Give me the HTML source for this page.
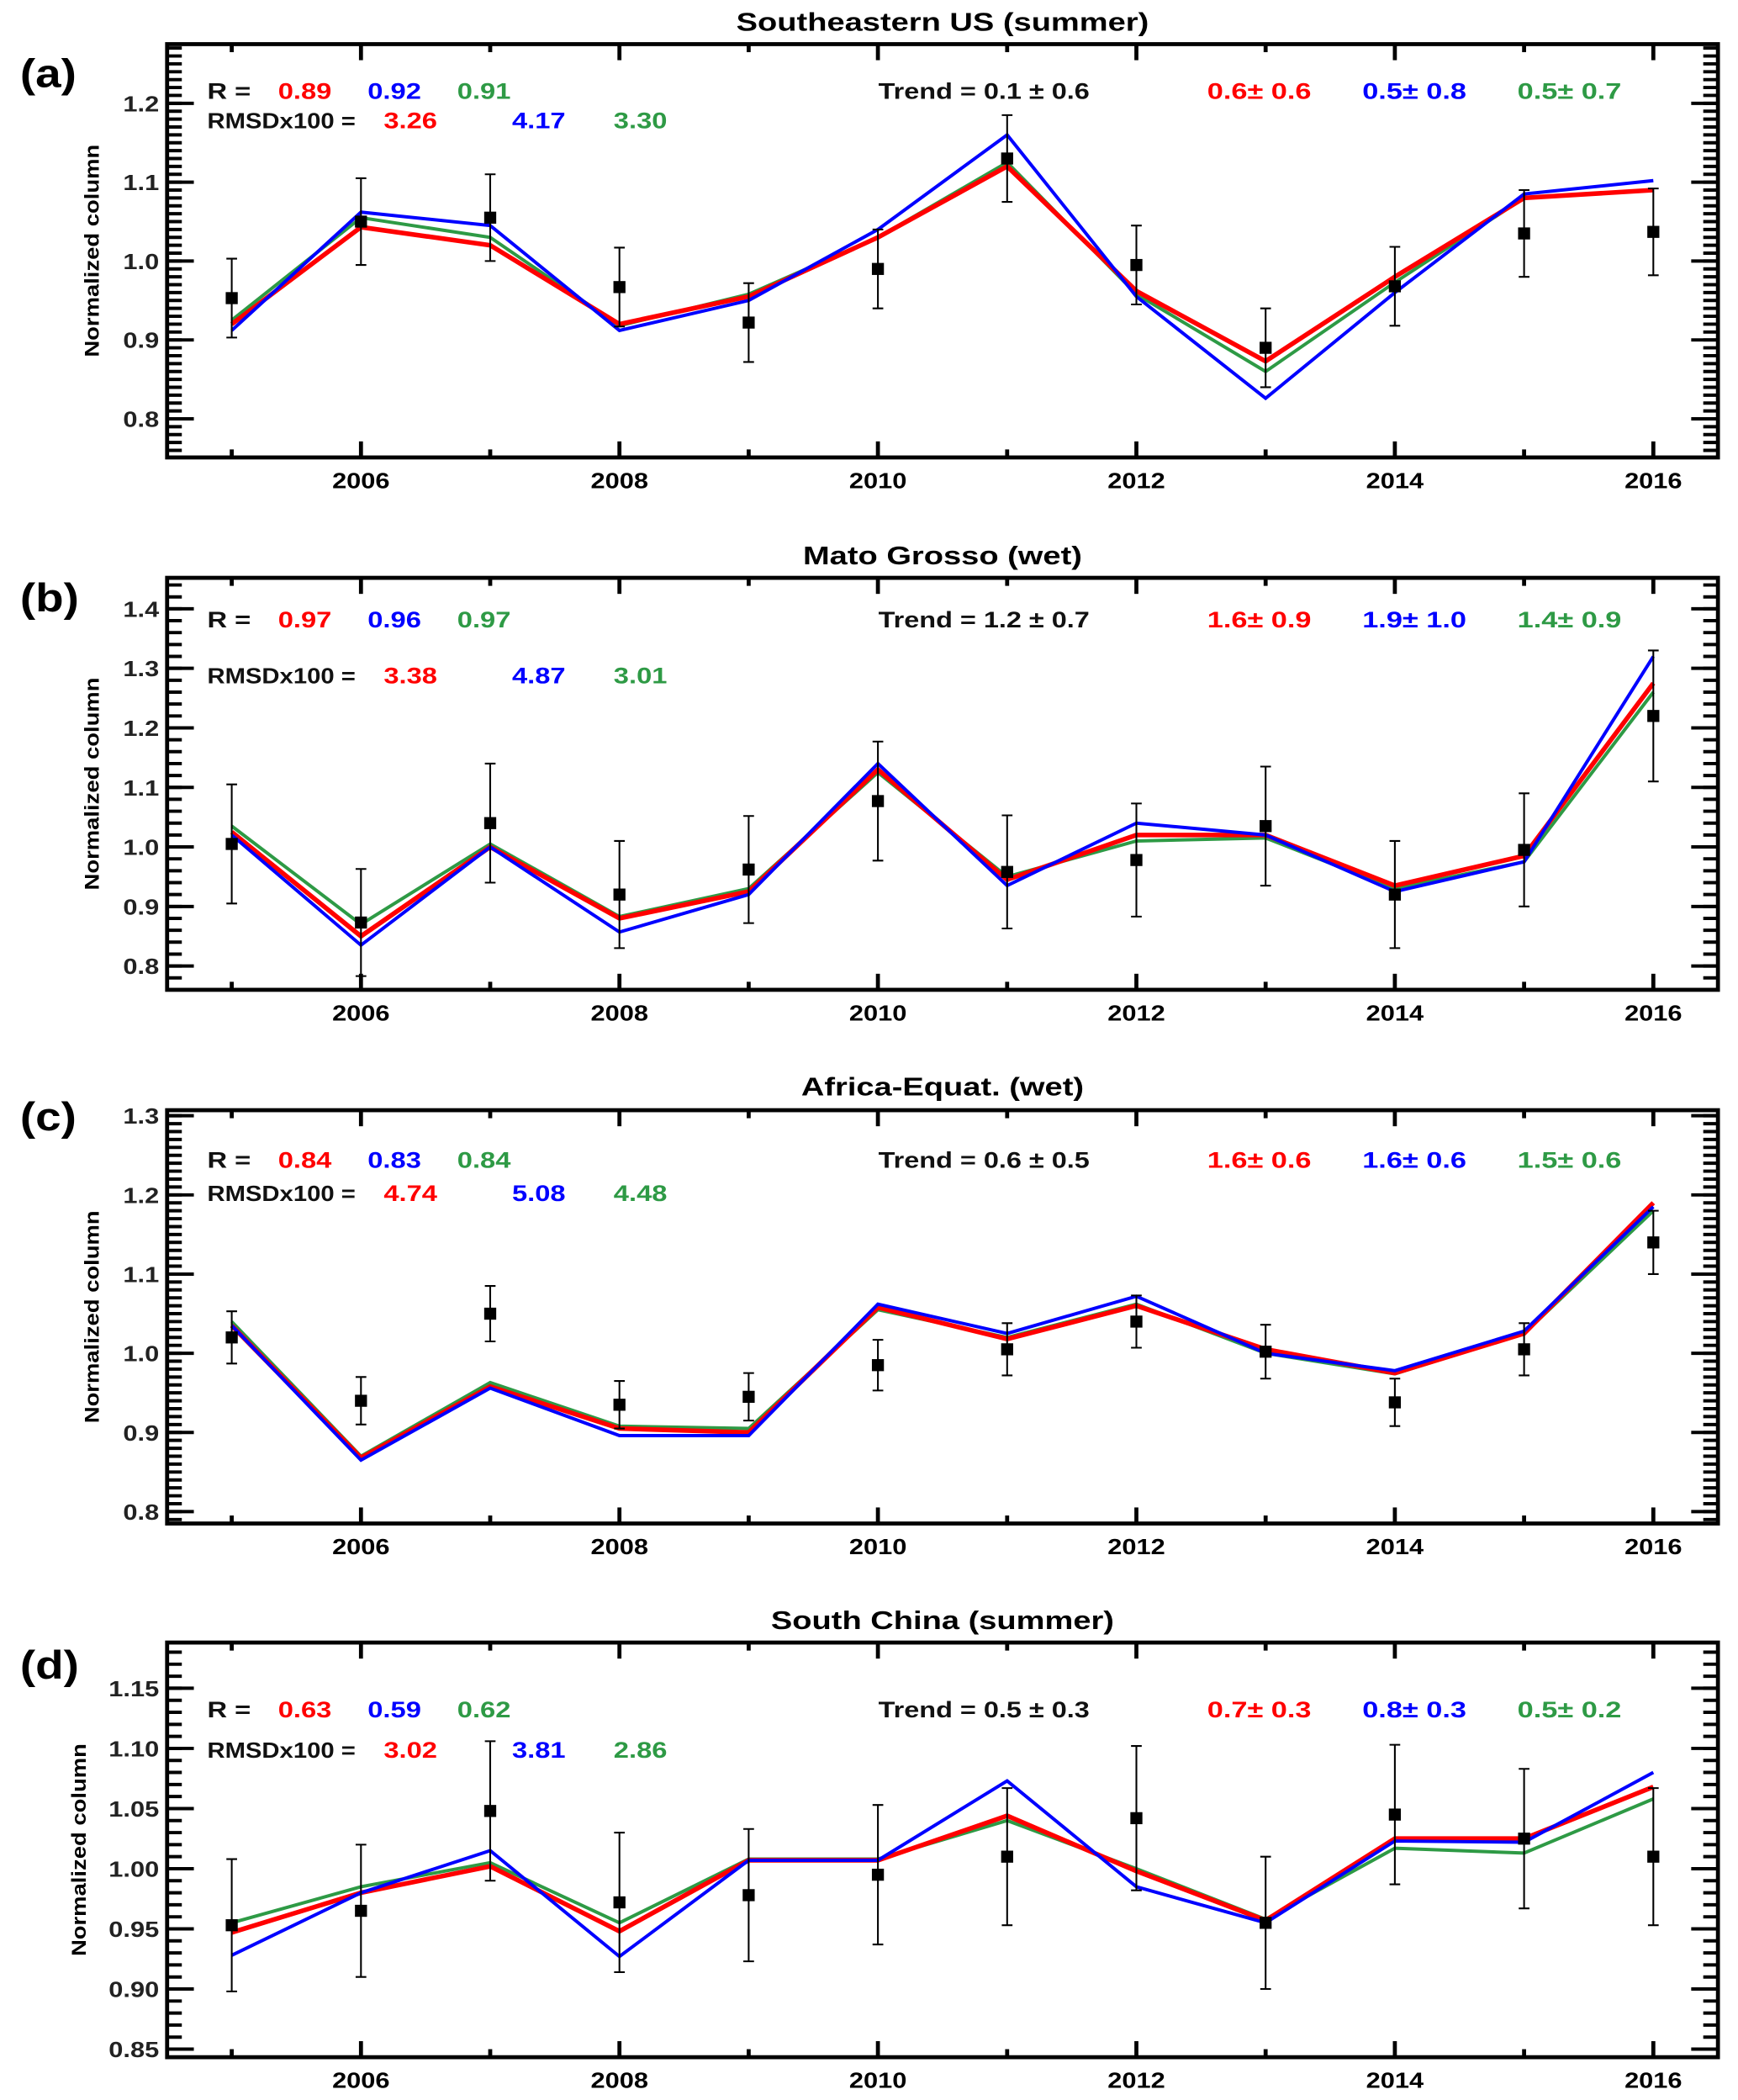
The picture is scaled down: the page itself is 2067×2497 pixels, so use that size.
<!DOCTYPE html>
<html><head><meta charset="utf-8"><style>
html,body{margin:0;padding:0;background:#fff}
svg{display:block}
text{font-family:"Liberation Sans",Arial,sans-serif;font-weight:bold}
</style></head><body>
<svg id="fig" width="2067" height="2497" viewBox="0 0 1300 1570" preserveAspectRatio="none" xmlns="http://www.w3.org/2000/svg"></svg>
<script>
const years = [2005,2006,2007,2008,2009,2010,2011,2012,2013,2014,2015,2016];
const xTickLabels = [2006,2008,2010,2012,2014,2016];

const obsA = [0.953,1.05,1.055,0.967,0.922,0.99,1.13,0.995,0.89,0.968,1.035,1.037];
const errA = [0.05,0.055,0.055,0.05,0.05,0.05,0.055,0.05,0.05,0.05,0.055,0.055];
const redA = [0.92,1.043,1.02,0.92,0.955,1.03,1.12,0.962,0.873,0.98,1.08,1.09];
const blueA = [0.912,1.062,1.045,0.912,0.95,1.04,1.16,0.955,0.826,0.96,1.085,1.102];
const greenA = [0.925,1.055,1.03,0.918,0.958,1.03,1.125,0.958,0.86,0.973,1.08,1.09];

const obsB = [1.005,0.873,1.04,0.92,0.962,1.077,0.958,0.978,1.035,0.92,0.995,1.22];
const errB = [0.1,0.09,0.1,0.09,0.09,0.1,0.095,0.095,0.1,0.09,0.095,0.11];
const redB = [1.025,0.85,1.0,0.88,0.925,1.13,0.945,1.02,1.02,0.935,0.985,1.275];
const blueB = [1.02,0.835,1.0,0.857,0.92,1.14,0.935,1.04,1.02,0.925,0.975,1.32];
const greenB = [1.035,0.87,1.005,0.883,0.93,1.125,0.95,1.01,1.015,0.93,0.975,1.26];

const obsC = [1.02,0.94,1.05,0.935,0.945,0.985,1.005,1.04,1.002,0.938,1.005,1.14];
const errC = [0.033,0.03,0.035,0.03,0.03,0.032,0.033,0.033,0.034,0.03,0.033,0.04];
const redC = [1.035,0.868,0.958,0.905,0.9,1.058,1.018,1.06,1.005,0.975,1.025,1.19];
const blueC = [1.035,0.865,0.956,0.896,0.896,1.062,1.025,1.072,1.0,0.978,1.028,1.185];
const greenC = [1.04,0.87,0.963,0.908,0.905,1.055,1.02,1.062,1.0,0.974,1.025,1.18];

const obsD = [0.953,0.965,1.048,0.972,0.978,0.995,1.01,1.042,0.955,1.045,1.025,1.01];
const errD = [0.055,0.055,0.058,0.058,0.055,0.058,0.057,0.06,0.055,0.058,0.058,0.057];
const redD = [0.947,0.98,1.002,0.948,1.007,1.007,1.044,0.998,0.957,1.025,1.025,1.068];
const blueD = [0.928,0.98,1.015,0.927,1.007,1.007,1.073,0.985,0.955,1.023,1.022,1.08];
const greenD = [0.955,0.985,1.005,0.955,1.008,1.008,1.04,1.0,0.958,1.017,1.013,1.058];

const yTicksA = ["0.8","0.9","1.0","1.1","1.2"];
const yTicksB = ["0.8","0.9","1.0","1.1","1.2","1.3","1.4"];
const yTicksC = ["0.8","0.9","1.0","1.1","1.2","1.3"];
const yTicksD = ["0.85","0.90","0.95","1.00","1.05","1.10","1.15"];

const panels = [
 {id:'a',title:'Southeastern US (summer)',top:33,bot:342,ymin:0.751,ymax:1.275,minor:0.01,obs:obsA,err:errA,red:redA,blue:blueA,green:greenA,yt:yTicksA,
  R:['0.89','0.92','0.91'],rm:['3.26','4.17','3.30'],trend:'0.1 ± 0.6',tr:['0.6± 0.6','0.5± 0.8','0.5± 0.7'],rY:68,mY:90,ttlY:16,lblY:55,yx:74},
 {id:'b',title:'Mato Grosso (wet)',top:432,bot:740,ymin:0.76,ymax:1.452,minor:0.02,obs:obsB,err:errB,red:redB,blue:blueB,green:greenB,yt:yTicksB,
  R:['0.97','0.96','0.97'],rm:['3.38','4.87','3.01'],trend:'1.2 ± 0.7',tr:['1.6± 0.9','1.9± 1.0','1.4± 0.9'],rY:463,mY:505,ttlY:415,lblY:447,yx:74},
 {id:'c',title:'Africa-Equat. (wet)',top:830,bot:1139,ymin:0.785,ymax:1.307,minor:0.01,obs:obsC,err:errC,red:redC,blue:blueC,green:greenC,yt:yTicksC,
  R:['0.84','0.83','0.84'],rm:['4.74','5.08','4.48'],trend:'0.6 ± 0.5',tr:['1.6± 0.6','1.6± 0.6','1.5± 0.6'],rY:867,mY:892,ttlY:812,lblY:835,yx:74},
 {id:'d',title:'South China (summer)',top:1228,bot:1538,ymin:0.8433,ymax:1.188,minor:0.01,obs:obsD,err:errD,red:redD,blue:blueD,green:greenD,yt:yTicksD,
  R:['0.63','0.59','0.62'],rm:['3.02','3.81','2.86'],trend:'0.5 ± 0.3',tr:['0.7± 0.3','0.8± 0.3','0.5± 0.2'],rY:1278,mY:1308,ttlY:1211,lblY:1245,yx:64}
];
const svg = document.getElementById('fig');
const NS = 'http://www.w3.org/2000/svg';
function mk(tag, attrs, parent){ const e=document.createElementNS(NS,tag); for(const k in attrs) e.setAttribute(k,attrs[k]); (parent||svg).appendChild(e); return e; }
function txt(s, x, y, attrs, parent, sx){
  const a = Object.assign({}, attrs);
  a.transform = `translate(${x},${y}) scale(${sx||1.21},1)`;
  const e=mk('text',a,parent); e.textContent=s; return e;
}
const L=125, R=1285, X0=2004.5, X1=2016.5;
const xs = v => L + (v-X0)/(X1-X0)*(R-L);
const COLORS = {red:'#ff0000',blue:'#0000ff',green:'#2e9a45'};

panels.forEach(p=>{
  const g = mk('g',{});
  
  
  const ys = v => p.bot - (v-p.ymin)/(p.ymax-p.ymin)*(p.bot-p.top);
  const t = txt(p.title,705,p.ttlY+7,{'text-anchor':'middle','font-size':19},g,1.26);
   
  const pl = txt('('+p.id+')',15,p.lblY+10,{'font-size':30},g,1.15);
   
  const yl = mk('text',{transform:`translate(${p.yx},${(p.top+p.bot)/2}) rotate(-90) scale(1.15,1)`,'text-anchor':'middle','font-size':15,'font-weight':'normal'},g);
  yl.textContent='Normalized column';
   
  const start = Math.ceil(p.ymin/p.minor-1e-6);
  for(let k=start; k*p.minor<=p.ymax+1e-9; k++){
    const y = ys(k*p.minor);
    mk('line',{x1:L,x2:L+11,y1:y,y2:y,stroke:'#000','stroke-width':2.5},g);
    mk('line',{x1:R,x2:R-11,y1:y,y2:y,stroke:'#000','stroke-width':2.5},g);
  }
  p.yt.forEach(s=>{
    const y = ys(parseFloat(s));
    mk('line',{x1:L,x2:L+20,y1:y,y2:y,stroke:'#000','stroke-width':2.5},g);
    mk('line',{x1:R,x2:R-20,y1:y,y2:y,stroke:'#000','stroke-width':2.5},g);
    const tl = txt(s,119,y+6,{'text-anchor':'end','font-size':16,'font-weight':'normal',fill:'#222'},g);
     
  });
  years.forEach(yr=>{
    const x = xs(yr), len = yr%2===0?12:6;
    mk('line',{x1:x,x2:x,y1:p.bot,y2:p.bot-len,stroke:'#000','stroke-width':3},g);
    mk('line',{x1:x,x2:x,y1:p.top,y2:p.top+len,stroke:'#000','stroke-width':3},g);
  });
  xTickLabels.forEach(yr=>{
    const xl = txt(String(yr),xs(yr),p.bot+23,{'text-anchor':'middle','font-size':16},g);
     
  });
  const box = mk('rect',{x:L,y:p.top,width:R-L,height:p.bot-p.top,fill:'none',stroke:'#000','stroke-width':3},g);
   
  const f=17;
  txt('R =',155,p.rY+6,{'font-size':f,fill:'#111'},g);
  [['red',208],['blue',275],['green',342]].forEach(([c,x],i)=>{const e=txt(p.R[i],x,p.rY+6,{'font-size':f,fill:COLORS[c]},g);});
  txt('RMSDx100 =',155,p.mY+6,{'font-size':16,fill:'#111'},g,1.15);
  [['red',287],['blue',383],['green',459]].forEach(([c,x],i)=>{const e=txt(p.rm[i],x,p.mY+6,{'font-size':f,fill:COLORS[c]},g);});
  txt('Trend = '+p.trend,657,p.rY+6,{'font-size':f,fill:'#111'},g,1.2);
  [['red',903],['blue',1019],['green',1135]].forEach(([c,x],i)=>{const e=txt(p.tr[i],x,p.rY+6,{'font-size':f,fill:COLORS[c]},g,1.27);});
  [['green',p.green,2.5],['red',p.red,3.5],['blue',p.blue,2.5]].forEach(([c,arr,w])=>{
    const pts = arr.map((v,i)=>xs(years[i])+','+ys(v)).join(' ');
    const l = mk('polyline',{points:pts,fill:'none',stroke:COLORS[c],'stroke-width':w,'stroke-linejoin':'miter'},g);
    
    
  });
  p.obs.forEach((v,i)=>{
    const x=xs(years[i]), y0=ys(v-p.err[i]), y1=ys(v+p.err[i]);
    const eb = mk('path',{d:`M${x},${y0}V${y1}M${x-4},${y0}H${x+4}M${x-4},${y1}H${x+4}`,stroke:'#000','stroke-width':1.3,fill:'none'},g);
    
    
    const m = mk('rect',{x:x-4.5,y:ys(v)-4.5,width:9,height:9,fill:'#000'},g);
    
    
  });
});
</script>
</body></html>
